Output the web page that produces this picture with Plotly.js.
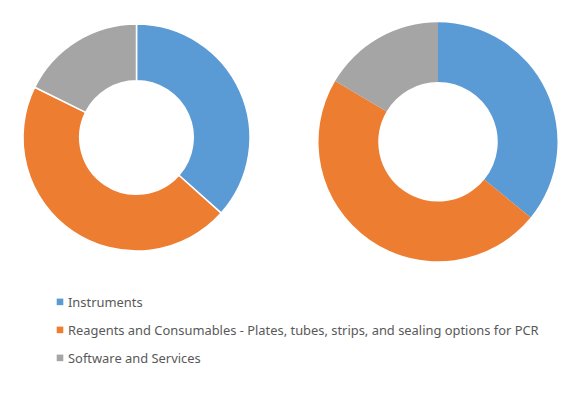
<!DOCTYPE html>
<html><head><meta charset="utf-8">
<script src="https://cdn.plot.ly/plotly-3.0.1.min.js"></script>
<style>html,body{margin:0;padding:0;background:#fff}</style>
</head><body><div id="chart" style="width:582px;height:399px"></div>
<script>
var categories = ["Instruments", "Reagents and Consumables - Plates, tubes, strips, and sealing options for PCR", "Software and Services"];
var leftValues = [36.6, 45.7, 17.7];
var rightValues = [35.9, 47.6, 16.5];
var colors = ["#5B9BD5", "#ED7D31", "#A5A5A5"];

var W = 582, H = 399;
function dom(cx, cy, r) {
  return {x: [(cx - r) / W, (cx + r) / W], y: [1 - (cy + r) / H, 1 - (cy - r) / H]};
}
var data = [
  {type: 'pie', labels: categories, values: leftValues, hole: 0.5, sort: false,
   direction: 'clockwise', rotation: 0, textinfo: 'none', hoverinfo: 'label+percent',
   marker: {colors: colors, line: {color: '#ffffff', width: 1.5}}, domain: dom(136.5, 137.5, 113.5)},
  {type: 'pie', labels: categories, values: rightValues, hole: 0.5, sort: false,
   direction: 'clockwise', rotation: 0, textinfo: 'none', hoverinfo: 'label+percent',
   marker: {colors: colors, line: {color: '#ffffff', width: 0}}, domain: dom(438, 141.8, 119.5)}
];
var layout = {
  width: W, height: H, margin: {l: 0, r: 0, t: 0, b: 0},
  paper_bgcolor: '#ffffff', plot_bgcolor: '#ffffff',
  showlegend: true,
  legend: {x: 28 / W, xanchor: 'left', y: 1 - 287 / H, yanchor: 'top', orientation: 'v',
    font: {family: 'Noto Sans', size: 12.9, color: '#595959'}, bgcolor: 'rgba(0,0,0,0)', borderwidth: 0}
};
Plotly.newPlot('chart', data, layout, {displayModeBar: false, staticPlot: true}).then(function (gd) {
  var items = gd.querySelectorAll('.legend .traces');
  var y0 = null;
  items.forEach(function (g, i) {
    var m = /translate\(([-\d.]+)[ ,]+([-\d.]+)\)/.exec(g.getAttribute('transform') || '');
    var x = m ? parseFloat(m[1]) : 0, y = m ? parseFloat(m[2]) : 0;
    if (y0 === null) y0 = y;
    g.setAttribute('transform', 'translate(' + x + ',' + (y0 + i * 28) + ')');
  });
  gd.querySelectorAll('.legend .legendpie').forEach(function (p) {
    p.setAttribute('transform', 'translate(32,0) scale(0.55)');
    p.style.strokeWidth = '0';
  });
  gd.querySelectorAll('.legend [clip-path]').forEach(function (el) {
    el.removeAttribute('clip-path');
  });
});
</script>
</body></html>
